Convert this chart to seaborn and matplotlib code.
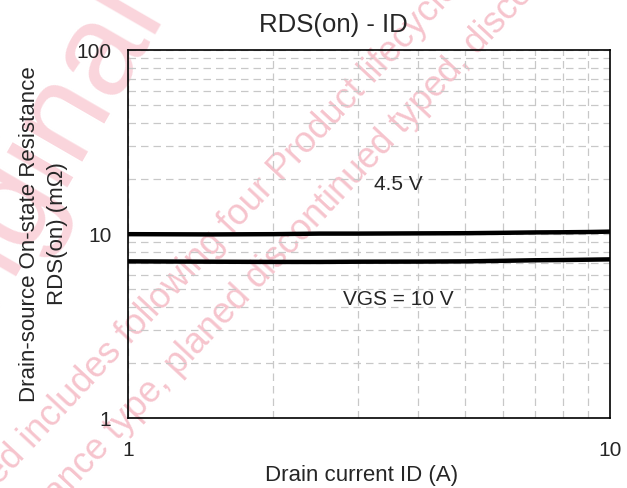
import pandas as pd
import seaborn as sns
import matplotlib.pyplot as plt
from matplotlib.ticker import LogLocator, NullFormatter, FixedLocator, FixedFormatter

# Curve data
drain_current = [1, 1.5, 2, 2.5, 3, 4, 5, 6, 7, 8, 9, 10]
rds_vgs_45 = [9.98, 9.95, 9.98, 10.05, 10.05, 10.08, 10.1, 10.15, 10.2, 10.22, 10.25, 10.3]
rds_vgs_10 = [7.1, 7.07, 7.05, 7.05, 7.07, 7.08, 7.1, 7.15, 7.2, 7.22, 7.25, 7.28]
series_names = ['4.5 V', 'VGS = 10 V']

x_ticks = [1, 10]
y_ticks = [1, 10, 100]

df = pd.DataFrame({
    'ID': drain_current * 2,
    'RDS': rds_vgs_45 + rds_vgs_10,
    'VGS': [series_names[0]] * len(drain_current) + [series_names[1]] * len(drain_current),
})

sns.set_style('white')
plt.rcParams['font.family'] = ['Liberation Sans', 'DejaVu Sans']

W, H = 627, 488
fig = plt.figure(figsize=(W / 100, H / 100), dpi=100)
ax = fig.add_axes([128 / W, 1 - 418 / H, (610 - 128) / W, (418 - 50) / H])
ax.patch.set_alpha(0)


def px(x, y):
    # pixel position from top-left -> figure fraction
    return x / W, 1 - y / H


# watermark, drawn behind the axes
wm = '#f6c4cd'
fig.text(*px(20, 190), 'Original', fontsize=95, color='#fad5dc', rotation=60,
         rotation_mode='anchor', ha='center', va='center', zorder=-1)
fig.text(*px(-112, 605), 'discontinued includes following four Product lifecycle status',
         fontsize=26, color=wm, rotation=47, rotation_mode='anchor',
         ha='left', va='baseline', zorder=-1)
fig.text(*px(-30, 600), 'maintenance type, planed discontinued typed, discontinued type',
         fontsize=26, color=wm, rotation=47, rotation_mode='anchor',
         ha='left', va='baseline', zorder=-1)

sns.lineplot(data=df, x='ID', y='RDS', hue='VGS', palette=['black', 'black'],
             linewidth=3.2, legend=False, ax=ax, zorder=3)

ax.set_xscale('log')
ax.set_yscale('log')
ax.set_xlim(1, 10)
ax.set_ylim(1, 100)

ax.xaxis.set_major_locator(FixedLocator(x_ticks))
ax.xaxis.set_major_formatter(FixedFormatter([str(t) for t in x_ticks]))
ax.yaxis.set_major_locator(FixedLocator(y_ticks))
ax.yaxis.set_major_formatter(FixedFormatter([str(t) for t in y_ticks]))
ax.xaxis.set_minor_locator(LogLocator(base=10, subs=range(2, 10)))
ax.yaxis.set_minor_locator(LogLocator(base=10, subs=range(2, 10)))
ax.xaxis.set_minor_formatter(NullFormatter())
ax.yaxis.set_minor_formatter(NullFormatter())

ax.grid(True, which='both', color='#c8c8c8', linestyle=(0, (6, 4)), linewidth=0.9)
ax.tick_params(which='both', length=0)
ax.tick_params(axis='x', pad=16.5, labelsize=15)
ax.tick_params(axis='y', pad=12, labelsize=15)

for s in ax.spines.values():
    s.set_color('black')
    s.set_linewidth(1.2)
    s.set_zorder(4)

ax.set_title('RDS(on) - ID', fontsize=18.5, pad=13, x=(333 - 128) / 482)
ax.set_xlabel('Drain current ID (A)', fontsize=16, labelpad=4, x=(362 - 128) / 482)
ax.set_ylabel('Drain-source On-state Resistance\nRDS(on) (m\u03a9)', fontsize=16,
              labelpad=6, linespacing=1.45)

ax.text(3.63, 18.5, series_names[0], fontsize=15, ha='center', va='center')
ax.text(3.63, 4.4, series_names[1], fontsize=15, ha='center', va='center')

fig.savefig('out.png', dpi=100)
